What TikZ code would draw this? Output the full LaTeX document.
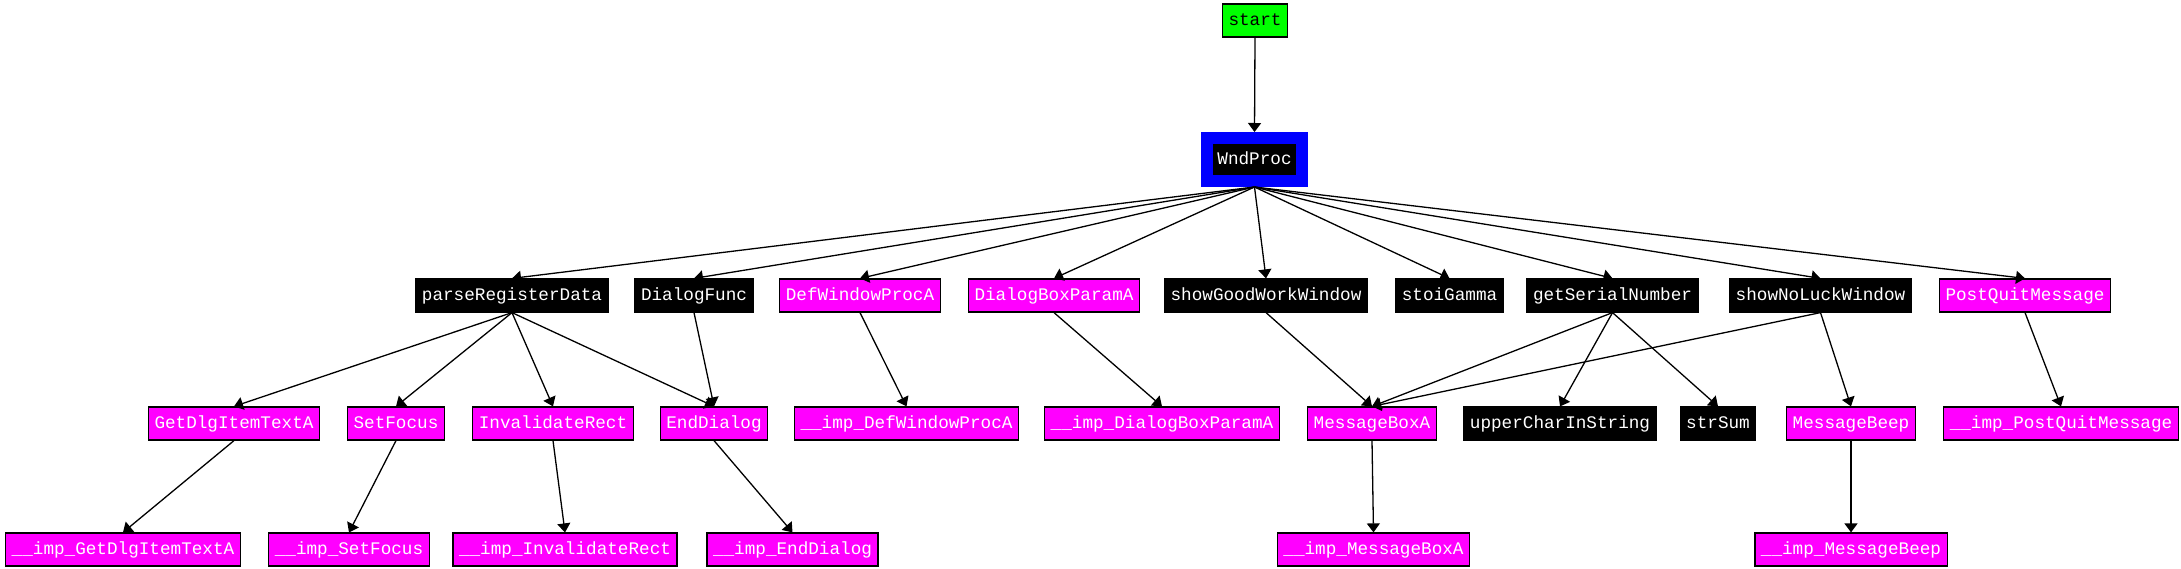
\documentclass[tikz,border=0pt]{standalone}
\usepackage{fontspec}
\setmonofont{Liberation Mono}
\usetikzlibrary{arrows.meta}
\definecolor{mgn}{HTML}{FF00FF}
\definecolor{grn}{HTML}{00FF00}
\definecolor{blu}{HTML}{0000FF}
\begin{document}
\begin{tikzpicture}[x=1pt,y=-1pt,
  box/.style={line width=1.2pt, minimum height=33pt, inner xsep=6pt, inner ysep=0pt,
    font=\ttfamily\fontsize{17.66}{20}\selectfont, text height=12pt, text depth=3pt},
  mbox/.style={box, draw=black, fill=mgn, text=white},
  kbox/.style={box, draw=black, fill=black, text=white},
  gbox/.style={box, draw=black, fill=grn, text=black},
  wbox/.style={box, draw=blu, line width=12pt, fill=black, text=white, minimum width=95pt, minimum height=43pt},
  arr/.style={-{Triangle[length=9pt,width=13pt]}, line width=1.3pt, black}]
\useasboundingbox (0,0) rectangle (2181,568);
% row 0/1
\node[gbox] (start) at (1255,20.5) {start};
\node[wbox] (wnd) at (1254.5,159.5) {WndProc};
% row 2
\node[kbox] (prd) at (512,295.5) {parseRegisterData};
\node[kbox] (dlgf) at (694,295.5) {DialogFunc};
\node[mbox] (dwp) at (860,295.5) {DefWindowProcA};
\node[mbox] (dbp) at (1054,295.5) {DialogBoxParamA};
\node[kbox] (sgw) at (1266,295.5) {showGoodWorkWindow};
\node[kbox] (stoi) at (1449.5,295.5) {stoiGamma};
\node[kbox] (gsn) at (1612.5,295.5) {getSerialNumber};
\node[kbox] (snl) at (1820.5,295.5) {showNoLuckWindow};
\node[mbox] (pqm) at (2025,295.5) {PostQuitMessage};
% row 3
\node[mbox] (gdi) at (234,423.5) {GetDlgItemTextA};
\node[mbox] (sf) at (396,423.5) {SetFocus};
\node[mbox] (ir) at (553,423.5) {InvalidateRect};
\node[mbox] (ed) at (714,423.5) {EndDialog};
\node[mbox] (idwp) at (906.5,423.5) {\_\_imp\_DefWindowProcA};
\node[mbox] (idbp) at (1162,423.5) {\_\_imp\_DialogBoxParamA};
\node[mbox] (mba) at (1372,423.5) {MessageBoxA};
\node[kbox] (ucs) at (1560,423.5) {upperCharInString};
\node[kbox] (ss) at (1718,423.5) {strSum};
\node[mbox] (mbp) at (1851,423.5) {MessageBeep};
\node[mbox] (ipqm) at (2061,423.5) {\_\_imp\_PostQuitMessage};
% row 4
\node[mbox] (igdi) at (123,549.5) {\_\_imp\_GetDlgItemTextA};
\node[mbox] (isf) at (349,549.5) {\_\_imp\_SetFocus};
\node[mbox] (iir) at (565,549.5) {\_\_imp\_InvalidateRect};
\node[mbox] (ied) at (792.5,549.5) {\_\_imp\_EndDialog};
\node[mbox] (imba) at (1373.5,549.5) {\_\_imp\_MessageBoxA};
\node[mbox] (imbp) at (1851,549.5) {\_\_imp\_MessageBeep};
% edges
\draw[arr] (start.south) -- (wnd.north);
\foreach \t in {prd,dlgf,dwp,dbp,sgw,stoi,gsn,snl,pqm}
  \draw[arr] (wnd.south) -- (\t.north);
\foreach \t in {gdi,sf,ir,ed}
  \draw[arr] (prd.south) -- (\t.north);
\draw[arr] (dlgf.south) -- (ed.north);
\draw[arr] (dwp.south) -- (idwp.north);
\draw[arr] (dbp.south) -- (idbp.north);
\draw[arr] (sgw.south) -- (mba.north);
\draw[arr] (gsn.south) -- (mba.north);
\draw[arr] (gsn.south) -- (ucs.north);
\draw[arr] (gsn.south) -- (ss.north);
\draw[arr] (snl.south) -- (mba.north);
\draw[arr] (snl.south) -- (mbp.north);
\draw[arr] (pqm.south) -- (ipqm.north);
\draw[arr] (gdi.south) -- (igdi.north);
\draw[arr] (sf.south) -- (isf.north);
\draw[arr] (ir.south) -- (iir.north);
\draw[arr] (ed.south) -- (ied.north);
\draw[arr] (mba.south) -- (imba.north);
\draw[arr] (mbp.south) -- (imbp.north);
\end{tikzpicture}
\end{document}
